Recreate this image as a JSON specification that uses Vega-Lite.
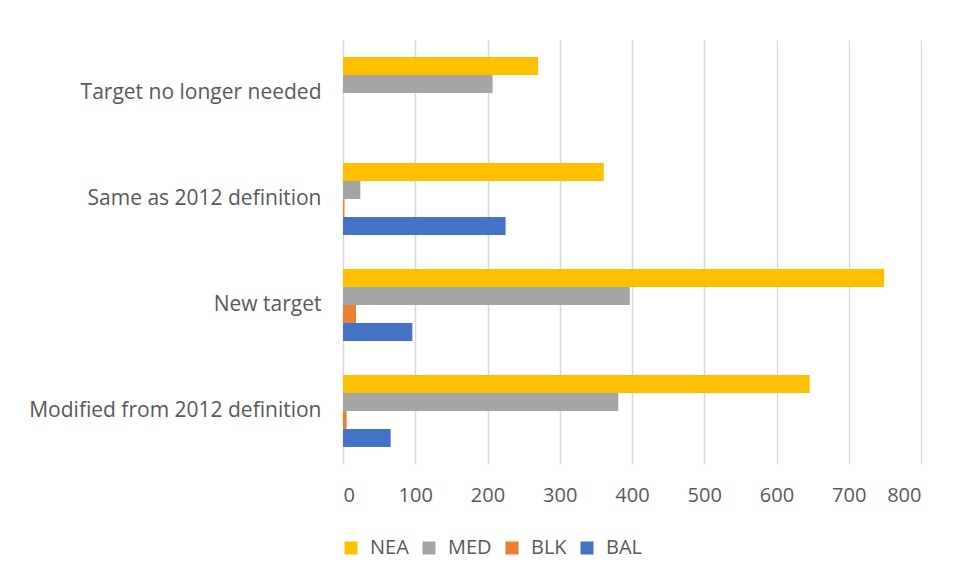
{
  "$schema": "https://vega.github.io/schema/vega-lite/v6.json",
  "width": 578,
  "height": 424,
  "autosize": {"type": "none"},
  "padding": {"left": 343, "top": 40, "right": 37, "bottom": 115},
  "background": "white",
  "data": {
    "values": [
      {"category": "Target no longer needed", "region": "NEA", "count": 270},
      {"category": "Target no longer needed", "region": "MED", "count": 207},
      {"category": "Target no longer needed", "region": "BLK", "count": 0},
      {"category": "Target no longer needed", "region": "BAL", "count": 0},
      {"category": "Same as 2012 definition", "region": "NEA", "count": 361},
      {"category": "Same as 2012 definition", "region": "MED", "count": 24},
      {"category": "Same as 2012 definition", "region": "BLK", "count": 2},
      {"category": "Same as 2012 definition", "region": "BAL", "count": 225},
      {"category": "New target", "region": "NEA", "count": 749},
      {"category": "New target", "region": "MED", "count": 397},
      {"category": "New target", "region": "BLK", "count": 18},
      {"category": "New target", "region": "BAL", "count": 96},
      {"category": "Modified from 2012 definition", "region": "NEA", "count": 646},
      {"category": "Modified from 2012 definition", "region": "MED", "count": 381},
      {"category": "Modified from 2012 definition", "region": "BLK", "count": 5},
      {"category": "Modified from 2012 definition", "region": "BAL", "count": 66}
    ]
  },
  "mark": {"type": "bar"},
  "encoding": {
    "y": {
      "field": "category",
      "type": "nominal",
      "sort": ["Target no longer needed", "Same as 2012 definition", "New target", "Modified from 2012 definition"],
      "scale": {"paddingInner": 0.32, "paddingOuter": 0.16},
      "axis": {
        "title": null,
        "ticks": false,
        "domain": false,
        "grid": false,
        "labelPadding": 22,
        "labelFont": "Open Sans",
        "labelFontSize": 21,
        "labelColor": "#595959",
        "labelLimit": 400
      }
    },
    "yOffset": {
      "field": "region",
      "type": "nominal",
      "sort": ["NEA", "MED", "BLK", "BAL"],
      "scale": {"paddingInner": 0, "paddingOuter": 0}
    },
    "x": {
      "field": "count",
      "type": "quantitative",
      "scale": {"domain": [0, 800], "nice": false},
      "axis": {
        "title": null,
        "values": [0, 100, 200, 300, 400, 500, 600, 700, 800],
        "ticks": false,
        "domain": false,
        "grid": true,
        "gridColor": "#D9D9D9",
        "gridWidth": 1.5,
        "labelPadding": 21,
        "labelFont": "Open Sans",
        "labelFontSize": 20,
        "labelColor": "#595959"
      }
    },
    "color": {
      "field": "region",
      "type": "nominal",
      "sort": ["NEA", "MED", "BLK", "BAL"],
      "scale": {
        "domain": ["NEA", "MED", "BLK", "BAL"],
        "range": ["#FFC000", "#A5A5A5", "#ED7D31", "#4472C4"]
      },
      "legend": {
        "title": null,
        "orient": "none",
        "direction": "horizontal",
        "legendX": -2,
        "legendY": 498,
        "symbolType": "square",
        "symbolSize": 169,
        "symbolStrokeWidth": 0,
        "labelFont": "Open Sans",
        "labelFontSize": 20,
        "labelColor": "#595959",
        "labelOffset": 9,
        "columnPadding": 10
      }
    }
  },
  "config": {
    "view": {"stroke": null}
  }
}
